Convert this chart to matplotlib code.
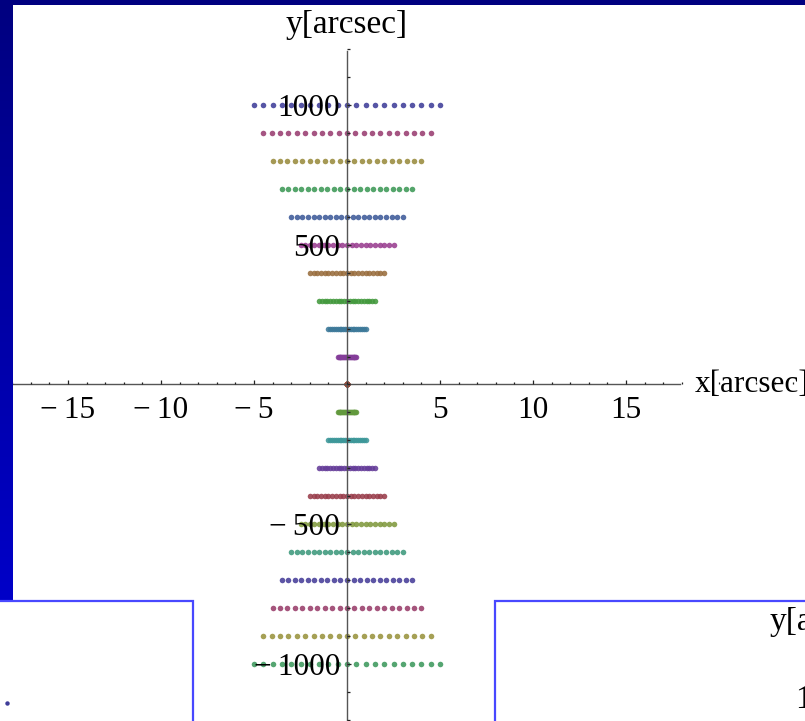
import numpy as np
import matplotlib
matplotlib.use("Agg")
import matplotlib.pyplot as plt
from matplotlib.patches import Rectangle
from matplotlib.ticker import FixedLocator, FixedFormatter, MultipleLocator

plt.rcParams['font.family'] = ['Liberation Serif', 'DejaVu Serif']

# one row of points per y level, spread evenly over +-half width in x
row_y = [1000, 900, 800, 700, 600, 500, 400, 300, 200, 100, 0,
         -100, -200, -300, -400, -500, -600, -700, -800, -900, -1000]
row_halfwidth = [5.0, 4.5, 4.0, 3.5, 3.0, 2.5, 2.0, 1.5, 1.0, 0.5, 0.0,
                 0.5, 1.0, 1.5, 2.0, 2.5, 3.0, 3.5, 4.0, 4.5, 5.0]
row_colors = ['#3f3d99', '#993d71', '#998b3d', '#3d9956', '#3d5a99', '#993d90',
              '#996d3d', '#43993d', '#3d7999', '#843d99', '#994e3d', '#62993d',
              '#3d9799', '#653d99', '#993d4b', '#80993d', '#3d997c', '#463d99',
              '#993d6a', '#99933d', '#3d995d']
points_per_row = 21

xtick_vals = [-15, -10, -5, 5, 10, 15]
xtick_text = ['\u2212\u200915', '\u2212\u200910', '\u2212\u20095', '5', '10', '15']
ytick_vals = [-1000, -500, 500, 1000]
ytick_text = ['\u2212\u20091000', '\u2212\u2009500', '500', '1000']

W, H = 805, 721
fig = plt.figure(figsize=(W / 100, H / 100), dpi=100)
fig.patch.set_facecolor('white')

# main axes fill the figure; limits put the origin at pixel (347, 384.5)
x0, sx = 347.0, 18.6      # px, px per arcsec
y0, sy = 384.5, 0.2795    # px, px per arcsec (y)
ax = fig.add_axes([0, 0, 1, 1])
ax.set_xlim(-x0 / sx, (W - x0) / sx)
ax.set_ylim(-(H - y0) / sy, y0 / sy)
ax.set_facecolor('white')
ax.set_axisbelow(False)

for y, hw, c in zip(row_y, row_halfwidth, row_colors):
    xs = np.linspace(-hw, hw, points_per_row)
    ax.plot(xs, np.full(points_per_row, y), 'o', ms=4.0, color=c,
            mec='none', alpha=0.88, zorder=2)

for side in ['top', 'right']:
    ax.spines[side].set_visible(False)
ax.spines['left'].set_position(('data', 0))
ax.spines['bottom'].set_position(('data', 0))
ax.spines['left'].set_bounds(-1210, 1192)
ax.spines['bottom'].set_bounds(-18.7, 17.9)
for side in ['left', 'bottom']:
    ax.spines[side].set_color('#555555')
    ax.spines[side].set_linewidth(1.0)

ax.xaxis.set_major_locator(FixedLocator(xtick_vals))
ax.xaxis.set_major_formatter(FixedFormatter(xtick_text))
ax.xaxis.set_minor_locator(MultipleLocator(1))
ax.yaxis.set_major_locator(FixedLocator(ytick_vals))
ax.yaxis.set_major_formatter(FixedFormatter(ytick_text))
ax.yaxis.set_minor_locator(MultipleLocator(100))

ax.tick_params(axis='both', which='both', direction='in', color='#222222',
               width=0.9, labelsize=22.5)
ax.tick_params(axis='both', which='major', length=3.2)
ax.tick_params(axis='both', which='minor', length=1.8)
ax.tick_params(axis='x', which='major', pad=8)
ax.tick_params(axis='y', which='major', pad=5)

ax.text(0, (y0 - 25) / sy, 'y[arcsec]', ha='center', va='center', fontsize=24)
ax.text((695 - x0) / sx, 0, 'x[arcsec]', ha='left', va='center', fontsize=22.5)

# slide frame and neighbouring panels, in pixel coordinates
ov = fig.add_axes([0, 0, 1, 1], zorder=5)
ov.set_xlim(0, W)
ov.set_ylim(H, 0)
ov.axis('off')
ov.patch.set_alpha(0)

grad = np.linspace(0, 1, 256).reshape(-1, 1)
cmap = matplotlib.colors.LinearSegmentedColormap.from_list('bar', ['#000080', '#0000c8'])
ov.imshow(grad, cmap=cmap, extent=[0, 12, 600, 0], aspect='auto', zorder=1)
ov.add_patch(Rectangle((0, 0), W, 5, facecolor='#000080', edgecolor='none', zorder=2))

ov.add_patch(Rectangle((-5, 600.5), 198, 140, facecolor='white',
                       edgecolor='#4848ff', lw=1.6, zorder=3))
ov.add_patch(Rectangle((495, 600.5), 330, 140, facecolor='white',
                       edgecolor='#4848ff', lw=1.6, zorder=3))
ov.plot([7], [703], 'o', ms=3.2, color='#3f3d99', mec='none', zorder=4)
ov.text(770, 622, 'y[arcsec]', ha='left', va='center', fontsize=24, zorder=4)
ov.text(795, 700, '1000', ha='left', va='center', fontsize=24, zorder=4)

fig.savefig('out.png', dpi=100)
